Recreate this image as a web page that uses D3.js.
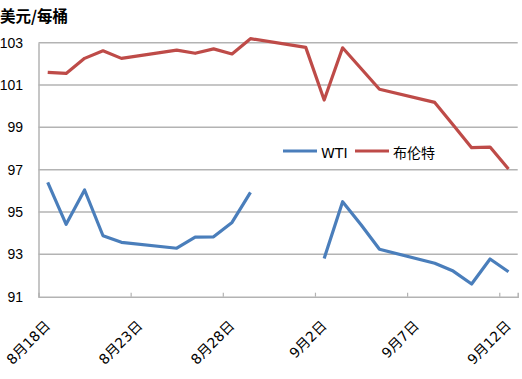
<!DOCTYPE html>
<html><head><meta charset="utf-8">
<script src="https://cdn.jsdelivr.net/npm/d3@7/dist/d3.min.js"></script>
<style>
html,body{margin:0;padding:0;background:#fff;}
svg{display:block;font-family:"DejaVu Sans","Noto Sans CJK SC",sans-serif;}
</style></head>
<body>
<svg id="c" width="522" height="379"></svg>
<script>
const dates = ["2014-08-18","2014-08-19","2014-08-20","2014-08-21","2014-08-22",
  "2014-08-25","2014-08-26","2014-08-27","2014-08-28","2014-08-29",
  "2014-09-01","2014-09-02","2014-09-03","2014-09-04","2014-09-05",
  "2014-09-08","2014-09-09","2014-09-10","2014-09-11","2014-09-12"];
const wti = [96.40,94.42,96.04,93.88,93.57,
  93.29,93.81,93.83,94.51,95.93,
  null,92.81,95.49,94.40,93.24,
  92.58,92.21,91.60,92.78,92.18];
const brent = [101.60,101.55,102.26,102.62,102.26,
  102.65,102.50,102.71,102.47,103.19,
  102.78,100.29,102.76,101.78,100.80,
  100.18,99.11,98.04,98.07,97.03];
const yTicks = [91,93,95,97,99,101,103];
const xTickLabels = ["8月18日","8月23日","8月28日","9月2日","9月7日","9月12日"];
const xLabelDates = ["2014-08-18","2014-08-23","2014-08-28","2014-09-02","2014-09-07","2014-09-12"];
const seriesNames = ["WTI","布伦特"];
const colors = ["#4a7ebb","#be4b48"];
const yTitle = "美元/每桶";

(function(){
const svg = d3.select("#c");
const mLeft = 38.5, mRight = 517.7, mTop = 42.7, mBottom = 296.7;
const parse = d3.utcParse("%Y-%m-%d");
const day = 864e5;
const x = d3.scaleUtc().domain([parse("2014-08-18"), parse("2014-09-13")]).range([mLeft, mRight]);
const y = d3.scaleLinear().domain([91,103]).range([mBottom, mTop]);
const xc = d => x(new Date(parse(d).getTime() + day/2));

// gridlines
svg.append("g").selectAll("line").data(yTicks.filter(t=>t>91)).join("line")
  .attr("x1", mLeft).attr("x2", mRight).attr("y1", d=>y(d)).attr("y2", d=>y(d))
  .attr("stroke","#b3b3b3").attr("stroke-width",1.5);

// y axis
const yAxis = svg.append("g").attr("transform",`translate(${mLeft},0)`)
  .call(d3.axisLeft(y).tickValues(yTicks).tickSize(0).tickPadding(15.5));
yAxis.select(".domain").attr("stroke","#b3b3b3").attr("stroke-width",1.5);
yAxis.selectAll("text").attr("font-size",14).attr("fill","#000")
  .attr("font-family","Liberation Sans, Arial, sans-serif");

// x axis
const tickDates = ["2014-08-23","2014-08-28","2014-09-02","2014-09-07","2014-09-12"].map(parse);
const xAxis = svg.append("g").attr("transform",`translate(0,${mBottom})`)
  .call(d3.axisBottom(x).tickValues(tickDates).tickSize(-4).tickFormat(""));
xAxis.select(".domain").attr("stroke","#b3b3b3").attr("stroke-width",1.5);
xAxis.selectAll(".tick line").attr("stroke","#b3b3b3").attr("stroke-width",1.2);

svg.append("g").selectAll("text").data(xTickLabels).join("text")
  .attr("transform",(d,i)=>`translate(${xc(xLabelDates[i])+3.5},${mBottom+30}) rotate(-45)`)
  .attr("text-anchor","end").attr("font-size",14).attr("fill","#000")
  .text(d=>d);

// lines
const line = d3.line().defined(d=>d.v!=null).x(d=>xc(d.d)).y(d=>y(d.v));
[wti, brent].forEach((vals,i)=>{
  const data = dates.map((d,j)=>({d, v: vals[j]}));
  svg.append("path").datum(data).attr("d", line)
    .attr("fill","none").attr("stroke",colors[i]).attr("stroke-width",3.2)
    .attr("stroke-linejoin","round");
});

// legend
const lg = svg.append("g");
const lx = [283, 355];
seriesNames.forEach((n,i)=>{
  lg.append("line").attr("x1",lx[i]).attr("x2",lx[i]+34).attr("y1",151).attr("y2",151)
    .attr("stroke",colors[i]).attr("stroke-width",3.2);
  lg.append("text").attr("x",lx[i]+38).attr("y",157.5).attr("font-size",14).text(n);
});

// y title
svg.append("text").attr("x",0).attr("y",22).attr("font-size",15.5).attr("font-weight","bold")
  .attr("font-family","Noto Sans CJK SC, sans-serif").text(yTitle);
})();
</script>
</body></html>
